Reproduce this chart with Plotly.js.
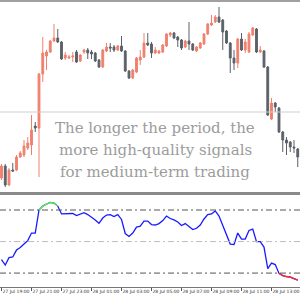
<!DOCTYPE html>
<html>
<head>
<meta charset="utf-8">
<script src="https://cdn.plot.ly/plotly-3.0.1.min.js"></script>
<style>
html,body{margin:0;padding:0;background:#fff;}
#chart{width:300px;height:300px;}
</style>
</head>
<body>
<div id="chart"></div>
<script>
// 15-minute candles, 27 Jul 19:00 -> 28 Jul 14:45
const openP  = [1.1622,1.1634,1.1615,1.1630,1.1630,1.1643,1.1645,1.1652,1.1655,1.1674,
                1.1672,1.1726,1.1744,1.1748,1.1759,1.1762,1.1758,1.1742,1.1742,1.1743,
                1.1748,1.1739,1.1748,1.1750,1.1748,1.1747,1.1740,1.1733,1.1749,1.1753,
                1.1753,1.1750,1.1754,1.1749,1.1729,1.1722,1.1728,1.1740,1.1743,1.1757,
                1.1756,1.1747,1.1747,1.1748,1.1754,1.1765,1.1767,1.1763,1.1760,1.1753,
                1.1759,1.1756,1.1749,1.1752,1.1756,1.1766,1.1775,1.1778,1.1783,1.1780,
                1.1769,1.1757,1.1742,1.1737,1.1761,1.1750,1.1748,1.1765,1.1771,1.1748,
                1.1749,1.1733,1.1681,1.1697,1.1692,1.1668,1.1660,1.1658,1.1653,1.1651];
const highP  = [1.1636,1.1636,1.1632,1.1637,1.1645,1.1649,1.1660,1.1663,1.1685,1.1678,
                1.1727,1.1763,1.1750,1.1760,1.1776,1.1771,1.1759,1.1748,1.1745,1.1748,
                1.1750,1.1746,1.1751,1.1752,1.1750,1.1748,1.1741,1.1751,1.1757,1.1757,
                1.1755,1.1755,1.1764,1.1750,1.1730,1.1731,1.1743,1.1750,1.1767,1.1767,
                1.1758,1.1753,1.1750,1.1756,1.1767,1.1768,1.1768,1.1764,1.1761,1.1760,
                1.1778,1.1757,1.1754,1.1758,1.1767,1.1777,1.1785,1.1785,1.1793,1.1781,
                1.1770,1.1758,1.1750,1.1762,1.1767,1.1761,1.1768,1.1773,1.1772,1.1754,
                1.1750,1.1734,1.1702,1.1698,1.1693,1.1669,1.1663,1.1659,1.1660,1.1652];
const lowP   = [1.1620,1.1613,1.1614,1.1628,1.1629,1.1642,1.1643,1.1650,1.1645,1.1668,
                1.1623,1.1718,1.1730,1.1747,1.1758,1.1757,1.1740,1.1740,1.1741,1.1738,
                1.1737,1.1738,1.1746,1.1741,1.1741,1.1738,1.1732,1.1732,1.1748,1.1748,
                1.1748,1.1749,1.1748,1.1728,1.1721,1.1721,1.1727,1.1735,1.1742,1.1754,
                1.1742,1.1746,1.1746,1.1747,1.1753,1.1763,1.1761,1.1753,1.1750,1.1752,
                1.1750,1.1749,1.1748,1.1751,1.1755,1.1765,1.1774,1.1777,1.1777,1.1750,
                1.1756,1.1727,1.1730,1.1732,1.1749,1.1747,1.1747,1.1764,1.1747,1.1747,
                1.1732,1.1684,1.1680,1.1688,1.1667,1.1648,1.1645,1.1648,1.1647,1.1633];
const closeP = [1.1634,1.1615,1.1630,1.1629,1.1643,1.1647,1.1654,1.1657,1.1670,1.1672,
                1.1726,1.1747,1.1748,1.1759,1.1762,1.1758,1.1741,1.1745,1.1743,1.1744,
                1.1738,1.1745,1.1750,1.1747,1.1746,1.1739,1.1733,1.1750,1.1753,1.1752,
                1.1750,1.1754,1.1749,1.1729,1.1722,1.1730,1.1742,1.1743,1.1757,1.1755,
                1.1747,1.1750,1.1749,1.1755,1.1766,1.1767,1.1762,1.1760,1.1752,1.1759,
                1.1756,1.1750,1.1753,1.1757,1.1766,1.1776,1.1777,1.1783,1.1778,1.1768,
                1.1757,1.1742,1.1737,1.1761,1.1750,1.1758,1.1766,1.1772,1.1748,1.1750,
                1.1733,1.1685,1.1697,1.1693,1.1668,1.1660,1.1657,1.1653,1.1652,1.1643];
// oscillator (0..100)
const osc = [38.6,35.1,39.8,40.2,44.6,46.2,48.4,50.6,55.4,55.4,
             70.0,72.5,73.8,74.8,74.4,72.5,67.5,67.5,67.5,67.8,
             66.5,67.5,68.3,67.1,65.6,63.7,61.6,64.9,66.8,67.1,
             65.9,67.1,64.0,55.1,53.2,55.4,59.2,59.8,63.0,63.0,
             60.8,60.5,61.4,63.3,66.2,64.6,63.7,62.4,60.2,61.4,
             59.5,57.6,58.4,60.5,64.3,67.1,67.5,69.4,66.2,60.2,
             54.1,48.4,48.1,55.4,51.6,51.6,57.0,57.9,49.9,49.9,
             46.5,32.9,36.3,35.4,29.8,28.4,27.8,27.5,26.5,25.6];
const levels = [70, 50, 30];
const priceLevel = 1.1688;
const tickLabels = ["27 Jul 19:00","27 Jul 21:00","27 Jul 23:00","28 Jul 01:00","28 Jul 03:00",
                    "28 Jul 05:00","28 Jul 07:00","28 Jul 09:00","28 Jul 11:00","28 Jul 13:00"];
const candlesPerTick = 8;
const textLines = ["The longer the period, the","more high-quality signals","for medium-term trading"];

const n = openP.length;
const idx = []; for (let i=0;i<n;i++) idx.push(i);
const tickVals = tickLabels.map((_,k)=>k*candlesPerTick);

const upC = '#f0806e', dnC = '#5b6168';
const candle = {
  type:'candlestick', x: idx, open: openP, high: highP, low: lowP, close: closeP,
  xaxis:'x', yaxis:'y', whiskerwidth:0, hoverinfo:'skip',
  increasing:{line:{color:upC,width:1}, fillcolor:upC},
  decreasing:{line:{color:dnC,width:1}, fillcolor:dnC},
  showlegend:false
};
const oscBlue = {type:'scatter', mode:'lines', x: idx, y: osc, xaxis:'x', yaxis:'y2',
  line:{color:'#1a1aff', width:1.3}, hoverinfo:'skip', showlegend:false};
const oscGreen = {type:'scatter', mode:'lines', x: idx, y: osc.map(v=>v>=levels[0]?v:null), xaxis:'x', yaxis:'y2',
  line:{color:'#55ee44', width:1.4}, hoverinfo:'skip', showlegend:false, connectgaps:false};
const oscRed = {type:'scatter', mode:'lines', x: idx, y: osc.map(v=>v<=levels[2]?v:null), xaxis:'x', yaxis:'y2',
  line:{color:'#ff2a2a', width:1.4}, hoverinfo:'skip', showlegend:false, connectgaps:false};

const shapes = [
  {type:'line', xref:'paper', yref:'y', x0:0, x1:1, y0:priceLevel, y1:priceLevel, line:{color:'#cfcfcf', width:1}},
  {type:'line', xref:'paper', yref:'y2', x0:0, x1:1, y0:levels[0], y1:levels[0], line:{color:'#555555', width:1, dash:'6px,3px,2px,3px'}},
  {type:'line', xref:'paper', yref:'y2', x0:0, x1:1, y0:levels[1], y1:levels[1], line:{color:'#bdbdbd', width:1, dash:'6px,3px,2px,3px'}},
  {type:'line', xref:'paper', yref:'y2', x0:0, x1:1, y0:levels[2], y1:levels[2], line:{color:'#555555', width:1, dash:'6px,3px,2px,3px'}},
  {type:'rect', xref:'paper', yref:'paper', x0:0, x1:1, y0:0.350, y1:0.360, fillcolor:'#8a8a8a', line:{width:0}},
  {type:'rect', xref:'paper', yref:'paper', x0:0, x1:1, y0:0.993, y1:1.0, fillcolor:'#a0a0a0', line:{width:0}}
];

const textY = [0.573, 0.500, 0.427];
const annotations = textLines.map((t,k)=>({
  xref:'paper', yref:'paper', x:0.517, y:textY[k], text:t, showarrow:false,
  xanchor:'center', yanchor:'middle',
  font:{family:'DejaVu Serif', size:15, color:'#9c9c9c'}
}));

const layout = {
  width:300, height:300, margin:{l:0,r:0,t:0,b:0},
  paper_bgcolor:'#ffffff', plot_bgcolor:'#ffffff',
  showlegend:false, hovermode:false,
  xaxis:{anchor:'y2', range:[-0.4, 79.6], rangeslider:{visible:false},
    showgrid:false, zeroline:false, showline:true, linecolor:'#777', linewidth:1,
    tickmode:'array', tickvals:tickVals, ticktext:tickLabels,
    ticks:'outside', ticklen:3, tickcolor:'#555', tickwidth:1,
    tickangle:0, automargin:false,
    ticklabelposition:'outside right', ticklabelstandoff:0,
    tickfont:{family:'DejaVu Sans', size:4.5, color:'#333'}},
  yaxis:{domain:[0.36, 0.99], range:[1.1608, 1.1797], visible:false, fixedrange:true},
  yaxis2:{domain:[0.045, 0.3467], range:[21.5, 78.89], visible:false, fixedrange:true},
  shapes: shapes, annotations: annotations
};

Plotly.newPlot('chart', [candle, oscBlue, oscGreen, oscRed], layout, {staticPlot:true, displayModeBar:false});
</script>
</body>
</html>
